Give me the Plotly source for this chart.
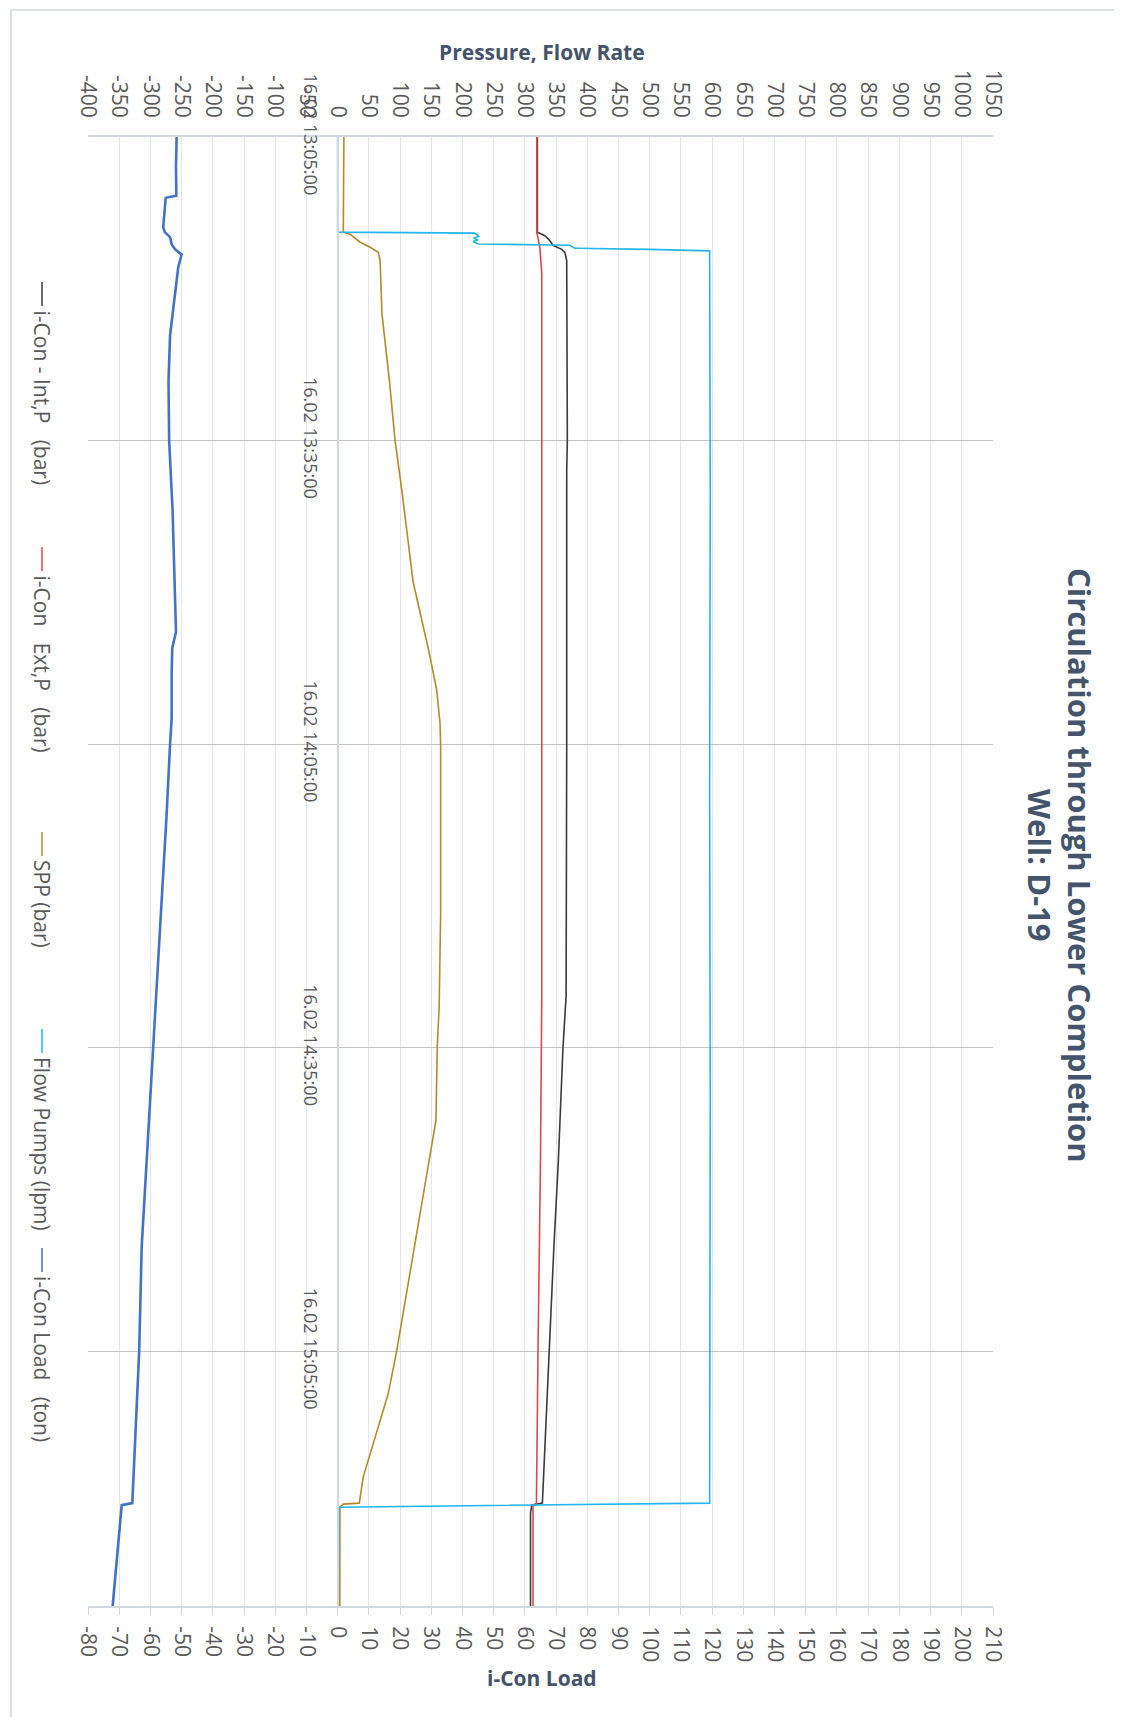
import plotly.graph_objects as go

DAY = "2023-02-16 "

# i-Con - Int,P (bar)
int_p_time = ["13:05:00", "13:14:24", "13:14:45", "13:15:15", "13:15:42", "13:16:06", "13:16:24",
              "13:17:12", "13:35:00", "13:38:00", "14:05:00", "14:29:54", "14:35:00", "14:46:18",
              "14:54:30", "15:05:00", "15:17:24", "15:20:00", "15:20:12", "15:21:00", "15:30:10"]
int_p_vals = [320, 320, 332, 340, 345, 359, 364,
              367, 368, 367, 367, 366, 361, 353.5,
              346.6, 339, 329.5, 328, 311, 309, 309]

# i-Con Ext,P (bar)
ext_p_time = ["13:05:00", "13:14:24", "13:15:54", "13:18:30", "14:30:00", "14:46:00", "15:05:00",
              "15:20:00", "15:20:12", "15:30:10"]
ext_p_vals = [319, 319, 324, 327, 327, 325, 321, 318.5, 313, 313]

# SPP (bar)
spp_time = ["13:05:00", "13:14:24", "13:14:36", "13:15:24", "13:15:54", "13:16:24", "13:17:12",
            "13:22:30", "13:29:06", "13:35:00", "13:40:00", "13:49:00", "13:55:30", "13:59:36",
            "14:02:54", "14:05:00", "14:21:42", "14:30:48", "14:35:00", "14:42:12", "14:43:48",
            "14:54:30", "15:05:00", "15:09:12", "15:14:12", "15:17:24", "15:20:00", "15:20:06",
            "15:20:24", "15:30:10"]
spp_vals = [10, 9, 20, 36, 52, 65, 68,
            71, 83, 92, 103, 121, 145, 158.6,
            164, 165, 165, 162.7, 159.5, 157.5, 153,
            124, 94.5, 81, 57, 41, 34.7, 9,
            3.7, 3.5]

# Flow Pumps (lpm)
flow_time = ["13:05:00", "13:14:24", "13:14:30", "13:14:50", "13:15:00", "13:15:10", "13:15:20",
             "13:15:34", "13:15:42", "13:16:00", "13:16:06", "13:16:15", "13:40:00", "14:10:00",
             "14:40:00", "15:10:00", "15:20:00", "15:20:24", "15:30:10"]
flow_vals = [0, 0, 220, 226, 218, 225, 217,
             225, 372, 380, 500, 596, 597, 596,
             597, 596, 596, 2, 1]

# i-Con Load (ton)
load_time = ["13:05:00", "13:07:54", "13:10:48", "13:11:00", "13:13:54", "13:14:24", "13:14:54",
             "13:15:36", "13:16:06", "13:16:36", "13:17:54", "13:21:12", "13:24:36", "13:29:06",
             "13:35:00", "13:41:54", "13:50:30", "13:53:54", "13:55:30", "13:58:12", "14:02:30",
             "14:05:00", "14:11:54", "14:20:30", "14:29:00", "14:35:00", "14:41:54", "14:48:42",
             "14:54:42", "15:05:00", "15:11:54", "15:17:54", "15:20:00", "15:20:12", "15:22:12",
             "15:26:24", "15:30:10"]
load_vals = [-51.6, -51.8, -51.7, -55.1, -55.9, -55.4, -53.7,
             -53.2, -52.1, -50.0, -51.1, -52.5, -53.7, -54.2,
             -54.0, -52.9, -52.1, -51.8, -53.0, -53.2, -53.2,
             -53.7, -54.8, -56.4, -58.0, -59.3, -60.4, -61.7,
             -62.8, -63.6, -64.6, -65.7, -65.8, -69.2, -69.8,
             -71.0, -72.1]

time_ticks = ["13:05:00", "13:35:00", "14:05:00", "14:35:00", "15:05:00"]
pressure_ticks = list(range(-400, 1051, 50))
load_ticks = list(range(-80, 211, 10))

sp = "\u00a0"
series = [
    ("i-Con - Int,P" + sp * 3 + "(bar)", int_p_time, int_p_vals, "#3b3b3b", "x", 1.6),
    ("i-Con" + sp * 3 + "Ext,P" + sp * 3 + "(bar)", ext_p_time, ext_p_vals, "#e0474c", "x", 1.6),
    ("SPP (bar)", spp_time, spp_vals, "#b38b2d", "x", 1.6),
    ("Flow Pumps (lpm)", flow_time, flow_vals, "#22b5ee", "x", 1.6),
    ("i-Con Load" + sp * 3 + "(ton)", load_time, load_vals, "#4472c4", "x2", 2.6),
]

fig = go.Figure()
for name, t, v, color, xax, w in series:
    fig.add_trace(go.Scatter(
        x=v, y=[DAY + s for s in t], mode="lines", name=name,
        line=dict(color=color, width=w), xaxis=xax, yaxis="y", showlegend=False,
    ))

# page has an 8px body margin; plot area given in page pixels
OFF = 8
FW, FH = 1122 - OFF, 1717 - OFF
L, R, T, B = 88, 993, 137, 1606


def px(x):
    return (x - L) / (R - L)


def py(y):
    return (B - y) / (B - T)


num_font = dict(family="Open Sans", size=21, color="#595959")
time_font = dict(family="Open Sans", size=18, color="#595959")
grid_light = "#e3e7ed"
axis_line = "#d3d8e0"

fig.update_layout(
    width=FW, height=FH,
    margin=dict(l=L - OFF, r=FW - (R - OFF), t=T - OFF, b=FH - (B - OFF), pad=0),
    paper_bgcolor="white", plot_bgcolor="white",
    xaxis=dict(
        side="top", range=[-400, 1050], tickvals=pressure_ticks,
        ticktext=[str(v) for v in pressure_ticks], tickangle=90,
        tickfont=num_font, showgrid=True, gridcolor=grid_light, gridwidth=1,
        zeroline=False, showline=True, linecolor=axis_line, linewidth=2,
        ticks="", ticklabelstandoff=10, automargin=False, anchor="y",
    ),
    xaxis2=dict(
        side="bottom", overlaying="x", range=[-80, 210], tickvals=load_ticks,
        ticktext=[str(v) for v in load_ticks], tickangle=90,
        tickfont=num_font, showgrid=False, zeroline=False, showline=True,
        linecolor=axis_line, linewidth=2, ticks="outside", ticklen=7,
        tickcolor=axis_line, ticklabelstandoff=7, automargin=False, anchor="y",
    ),
    yaxis=dict(
        type="date", range=[DAY + "15:30:10", DAY + "13:05:00"],
        tickvals=[DAY + s for s in time_ticks], tickformat="%d.%m %H:%M:%S",
        tickangle=90, tickfont=time_font, showgrid=True, gridcolor="#c4c4c4",
        gridwidth=1, zeroline=False, showline=True, linecolor=axis_line, linewidth=2,
        anchor="free", position=400 / 1450, ticks="", ticklabelstandoff=11,
        automargin=False,
    ),
)

title_font = dict(family="Open Sans", color="#44546a")
annotations = [
    dict(text="<b>Circulation through Lower Completion<br>Well: D-19</b>",
         x=px(1060), y=py(865), xanchor="center", yanchor="middle", textangle=90,
         font=dict(title_font, size=31)),
    dict(text="<b>Pressure, Flow Rate</b>", x=px(542), y=py(52), xanchor="center",
         yanchor="middle", font=dict(title_font, size=21)),
    dict(text="<b>i-Con Load</b>", x=px(542), y=py(1678), xanchor="center",
         yanchor="middle", font=dict(title_font, size=21)),
]

shapes = [
    dict(type="rect", xref="paper", yref="paper", x0=px(7 + OFF // 2), x1=px(1140),
         y0=py(6 + OFF // 2), y1=py(1740),
         line=dict(color="#dde1e7", width=2), fillcolor="rgba(0,0,0,0)", layer="below"),
]

legend_top = [282, 547, 832, 1029, 1248]
for (name, _, _, color, _, _), y0 in zip(series, legend_top):
    shapes.append(dict(type="line", xref="paper", yref="paper", x0=px(42), x1=px(42),
                       y0=py(y0), y1=py(y0 + 24), line=dict(color=color, width=1.5)))
    annotations.append(dict(text=name, x=px(42), y=py(y0 + 26), xanchor="center", yanchor="top",
                            textangle=90, font=dict(family="Open Sans", size=21, color="#595959")))

for a in annotations:
    a.update(xref="paper", yref="paper", showarrow=False)

fig.update_layout(annotations=annotations, shapes=shapes)

fig.write_html("out.html")
